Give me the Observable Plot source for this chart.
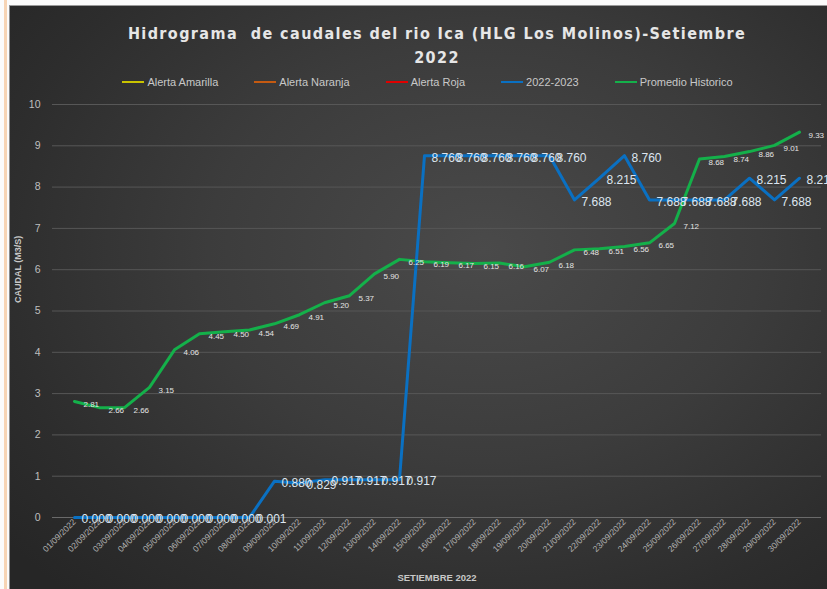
<!DOCTYPE html>
<html>
<head>
<meta charset="utf-8">
<script src="https://cdn.jsdelivr.net/npm/d3@7"></script>
<script src="https://cdn.jsdelivr.net/npm/@observablehq/plot@0.6"></script>
<style>
  html, body { margin: 0; padding: 0; background: #ffffff; }
  #page { position: relative; width: 827px; height: 589px; overflow: hidden; background: #fbfbfb; }
  #strip { position: absolute; left: 4px; top: 0; width: 3px; height: 589px; background: #f7d4b4; }
  #panel { position: absolute; left: 9px; top: 5px; width: 818px; height: 584px;
    background: radial-gradient(ellipse 75% 80% at 58% 42%, #4a4a4a 0%, #3c3c3c 45%, #2d2d2d 80%, #262626 100%);
    border-left: 1px solid #8a8a8a; border-top: 1px solid #9a9a9a; box-sizing: border-box; }
  .title { position: absolute; left: 0; width: 874px; text-align: center; color: #e6e6e6;
    font-family: "Liberation Sans Narrow", "DejaVu Sans Condensed", "Liberation Sans", sans-serif;
    font-weight: bold; font-size: 16px; letter-spacing: 1.4px; white-space: pre; }
  #legend { position: absolute; top: 76px; left: 0; width: 855px; display: flex; justify-content: center; gap: 36px;
    font-family: "Liberation Sans Narrow", "Liberation Sans", sans-serif; font-size: 11px; color: #c8c8c8; }
  .item { display: flex; align-items: center; gap: 3px; }
  .sw { width: 22px; height: 2.5px; }
  #chart { position: absolute; left: 0; top: 95px; }
</style>
</head>
<body>
<div id="page">
  <div id="strip"></div>
  <div id="panel"></div>
  <div class="title" style="top:24px">Hidrograma  de caudales del rio Ica (HLG Los Molinos)-Setiembre</div>
  <div class="title" style="top:48px">2022</div>
  <div id="legend"></div>
  <div id="chart"></div>
</div>
<script>
const dates = ["01/09/2022","02/09/2022","03/09/2022","04/09/2022","05/09/2022","06/09/2022","07/09/2022","08/09/2022","09/09/2022","10/09/2022",
  "11/09/2022","12/09/2022","13/09/2022","14/09/2022","15/09/2022","16/09/2022","17/09/2022","18/09/2022","19/09/2022","20/09/2022",
  "21/09/2022","22/09/2022","23/09/2022","24/09/2022","25/09/2022","26/09/2022","27/09/2022","28/09/2022","29/09/2022","30/09/2022"];

const caudal2022 = [0.000,0.000,0.000,0.000,0.000,0.000,0.000,0.001,0.880,0.829,
  0.917,0.917,0.917,0.917,8.760,8.760,8.760,8.760,8.760,8.760,
  7.688,8.215,8.760,7.688,7.688,7.688,7.688,8.215,7.688,8.215];

const promedioHistorico = [2.81,2.66,2.66,3.15,4.06,4.45,4.50,4.54,4.69,4.91,
  5.20,5.37,5.90,6.25,6.19,6.17,6.15,6.16,6.07,6.18,
  6.48,6.51,6.56,6.65,7.12,8.68,8.74,8.86,9.01,9.33];

const alertaAmarilla = [];
const alertaNaranja = [];
const alertaRoja = [];

const yTicks = [0,1,2,3,4,5,6,7,8,9,10];

const seriesNames = ["Alerta Amarilla","Alerta Naranja","Alerta Roja","2022-2023","Promedio Historico"];
const seriesColors = ["#c9c300","#c55a11","#e00000","#0a70c2","#14b04a"];

const legend = document.getElementById("legend");
seriesNames.forEach((n, i) => {
  const it = document.createElement("div");
  it.className = "item";
  it.innerHTML = `<span class="sw" style="background:${seriesColors[i]}"></span><span>${n}</span>`;
  legend.appendChild(it);
});

const blue = dates.map((d, i) => ({date: d, v: caudal2022[i]}));
const green = dates.map((d, i) => ({date: d, v: promedioHistorico[i]}));
const font = '"Liberation Sans Narrow", "Liberation Sans", sans-serif';

const chart = Plot.plot({
  width: 827,
  height: 494,
  marginLeft: 52,
  marginRight: 6,
  marginTop: 9,
  marginBottom: 72,
  style: {background: "transparent", color: "#bdbdbd", fontFamily: font},
  x: {type: "point", domain: dates, padding: 0.5},
  y: {domain: [0, 10]},
  marks: [
    Plot.gridY(yTicks, {stroke: "#575757", strokeOpacity: 1, strokeWidth: 1}),
    Plot.ruleY([0], {stroke: "#6a6a6a"}),
    Plot.axisY(yTicks, {tickSize: 0, tickPadding: 12, fontSize: 10.5, fill: "#bfbfbf", label: null}),
    Plot.axisX({tickRotate: -45, tickSize: 0, tickPadding: 3, fontSize: 8.5, fill: "#b5b5b5", label: null}),
    Plot.text(["CAUDAL (M3/S)"], {frameAnchor: "left", dx: -34, dy: -8, rotate: -90, fontSize: 9, fontWeight: "bold", fill: "#c8c8c8"}),
    Plot.text(["SETIEMBRE 2022"], {frameAnchor: "bottom", dy: 63, fontSize: 9.5, fontWeight: "bold", fill: "#c8c8c8"}),
    Plot.line(green, {x: "date", y: "v", stroke: seriesColors[4], strokeWidth: 3}),
    Plot.line(blue, {x: "date", y: "v", stroke: seriesColors[3], strokeWidth: 3}),
    Plot.text(green, {x: "date", y: "v", text: d => d.v.toFixed(2), dx: 9, dy: 3, textAnchor: "start", fontSize: 8, fill: "#e4e4e4"}),
    Plot.text(blue, {x: "date", y: "v", text: d => d.v.toFixed(3), dx: 7, dy: 2, textAnchor: "start", fontSize: 12, fill: "#dde6f0"})
  ]
});
document.getElementById("chart").appendChild(chart);
</script>
</body>
</html>
